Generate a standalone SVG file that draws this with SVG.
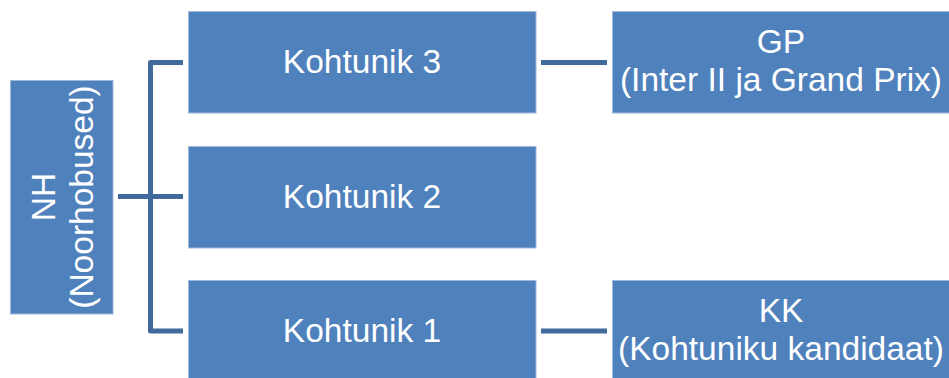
<svg xmlns="http://www.w3.org/2000/svg" width="949" height="378" viewBox="0 0 949 378">
<style>
.box{fill:#4F81BD;stroke:#9fb8dc;stroke-width:1}
.t{font-family:"Liberation Sans",Arial,sans-serif;font-size:33.5px;fill:#ffffff;text-anchor:middle}
.c{fill:none;stroke:#41699C;stroke-width:5;stroke-linejoin:round}
</style>
<rect width="949" height="378" fill="#ffffff"/>
<g id="connectors">
<path class="c" d="M183,62.5 H150.5 V331 H183"/>
<path class="c" d="M118,196.5 H183"/>
<path class="c" d="M541,62.5 H607"/>
<path class="c" d="M541,331 H607"/>
</g>
<g id="nh">
<rect class="box" x="10.5" y="80.5" width="102.5" height="233.5"/>
<text class="t" transform="translate(0,197) rotate(-90)"><tspan x="0" y="55">NH</tspan><tspan x="0" dy="38">(Noorhobused)</tspan></text>
</g>
<g id="k3">
<rect class="box" x="188.5" y="11.5" width="347.5" height="101.5"/>
<text class="t" x="362" y="73">Kohtunik 3</text>
</g>
<g id="k2">
<rect class="box" x="188.5" y="146.5" width="347.5" height="101.5"/>
<text class="t" x="362" y="208">Kohtunik 2</text>
</g>
<g id="k1">
<rect class="box" x="188.5" y="280.5" width="347.5" height="101.5"/>
<text class="t" x="362" y="342">Kohtunik 1</text>
</g>
<g id="gp">
<rect class="box" x="612.5" y="11.5" width="340" height="101.5"/>
<text class="t"><tspan x="781" y="53">GP</tspan><tspan x="781" dy="38">(Inter II ja Grand Prix)</tspan></text>
</g>
<g id="kk">
<rect class="box" x="612.5" y="280.5" width="340" height="101.5"/>
<text class="t"><tspan x="781" y="322">KK</tspan><tspan x="781" dy="38">(Kohtuniku kandidaat)</tspan></text>
</g>
</svg>
